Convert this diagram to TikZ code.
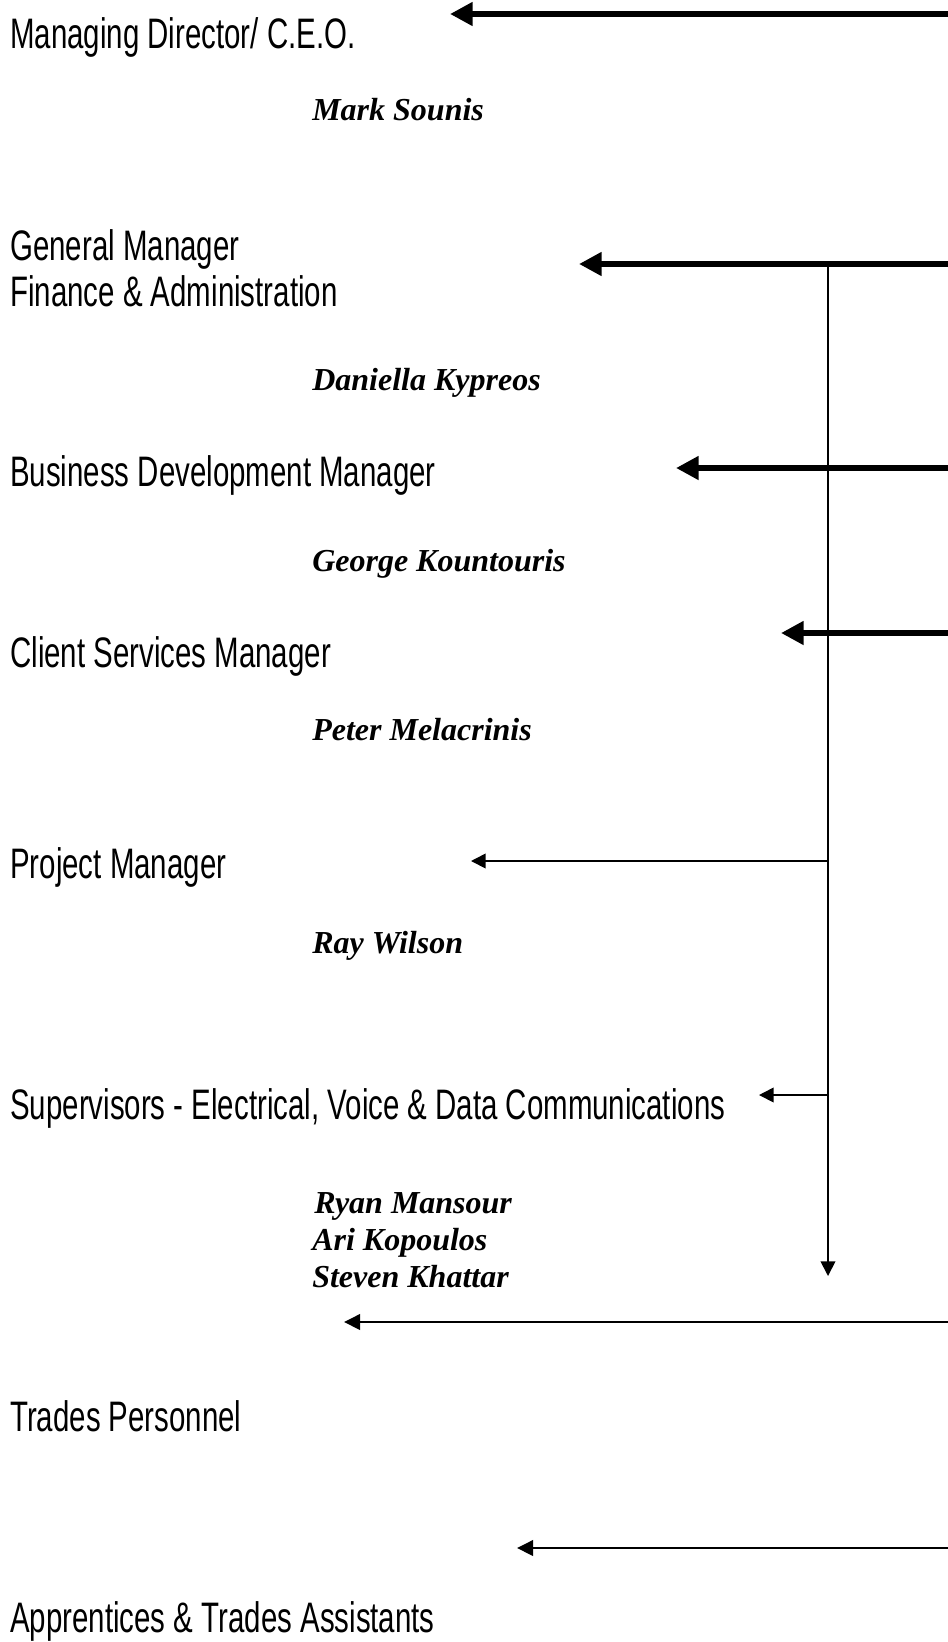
\documentclass[tikz,border=0pt]{standalone}
\usepackage{fontspec}
\usetikzlibrary{arrows.meta}
\newfontfamily\hand[FakeStretch=0.69]{Liberation Sans}
\newfontfamily\namefont{Liberation Serif}
\tikzset{
  role/.style={anchor=base west, inner sep=0pt, font=\hand\fontsize{32}{38}\selectfont},
  person/.style={anchor=base west, inner sep=0pt, font=\namefont\bfseries\itshape\fontsize{24}{28}\selectfont},
  thick arrow/.style={line width=5.2pt, -{Triangle[length=17pt,width=17pt]}},
  thin arrow/.style={line width=1.3pt, -{Triangle[length=11pt,width=11pt]}},
  mid arrow/.style={line width=2pt, -{Triangle[length=12pt,width=11.5pt]}}
}
\begin{document}
\begin{tikzpicture}[x=0.75pt,y=-0.75pt]
\useasboundingbox (0,0) rectangle (948,1642);
\fill[white] (0,0) rectangle (948,1642);

% roles
\node[role] (md) at (10,48) {Managing Director/ C.E.O.};
\node[role] (gm) at (10,260) {General Manager};
\node[role] (fa) at (10,306) {Finance \& Administration};
\node[role] (bdm) at (10,486) {Business Development Manager};
\node[role] (csm) at (10,667) {Client Services Manager};
\node[role] (pm) at (10,878) {Project Manager};
\node[role] (sup) at (10,1119) {Supervisors - Electrical, Voice \& Data Communications};
\node[role] (tp) at (10,1431) {Trades Personnel};
\node[role] (ap) at (10,1632) {Apprentices \& Trades Assistants};

% people
\node[person] (ms) at (312,120) {Mark Sounis};
\node[person] (dk) at (312,390) {Daniella Kypreos};
\node[person] (gk) at (312,571) {George Kountouris};
\node[person] (pmel) at (312,740) {Peter Melacrinis};
\node[person] (rw) at (312,953) {Ray Wilson};
\node[person] (rm) at (314,1213) {Ryan Mansour};
\node[person] (ak) at (312,1250) {Ari Kopoulos};
\node[person] (sk) at (312,1287) {Steven Khattar};

% connector end points
\coordinate (r1) at (948,14);   \coordinate (t1) at (450,14);
\coordinate (r2) at (948,264);  \coordinate (t2) at (579,264);
\coordinate (r3) at (948,468);  \coordinate (t3) at (676,468);
\coordinate (r4) at (948,633);  \coordinate (t4) at (781,633);
\coordinate (top) at (828,264); \coordinate (bot) at (828,1276);
\coordinate (j5) at (828,861);  \coordinate (t5) at (471,861);
\coordinate (j6) at (828,1095); \coordinate (t6) at (759,1095);
\coordinate (r7) at (948,1322); \coordinate (t7) at (344,1322);
\coordinate (r8) at (948,1548); \coordinate (t8) at (517,1548);

\draw[thin arrow] (top) -- (bot);
\draw[thin arrow] (j5) -- (t5);
\draw[thin arrow] (j6) -- (t6);
\draw[thick arrow] (r1) -- (t1);
\draw[thick arrow] (r2) -- (t2);
\draw[thick arrow] (r3) -- (t3);
\draw[thick arrow] (r4) -- (t4);
\draw[mid arrow] (r7) -- (t7);
\draw[mid arrow] (r8) -- (t8);
\end{tikzpicture}
\end{document}
